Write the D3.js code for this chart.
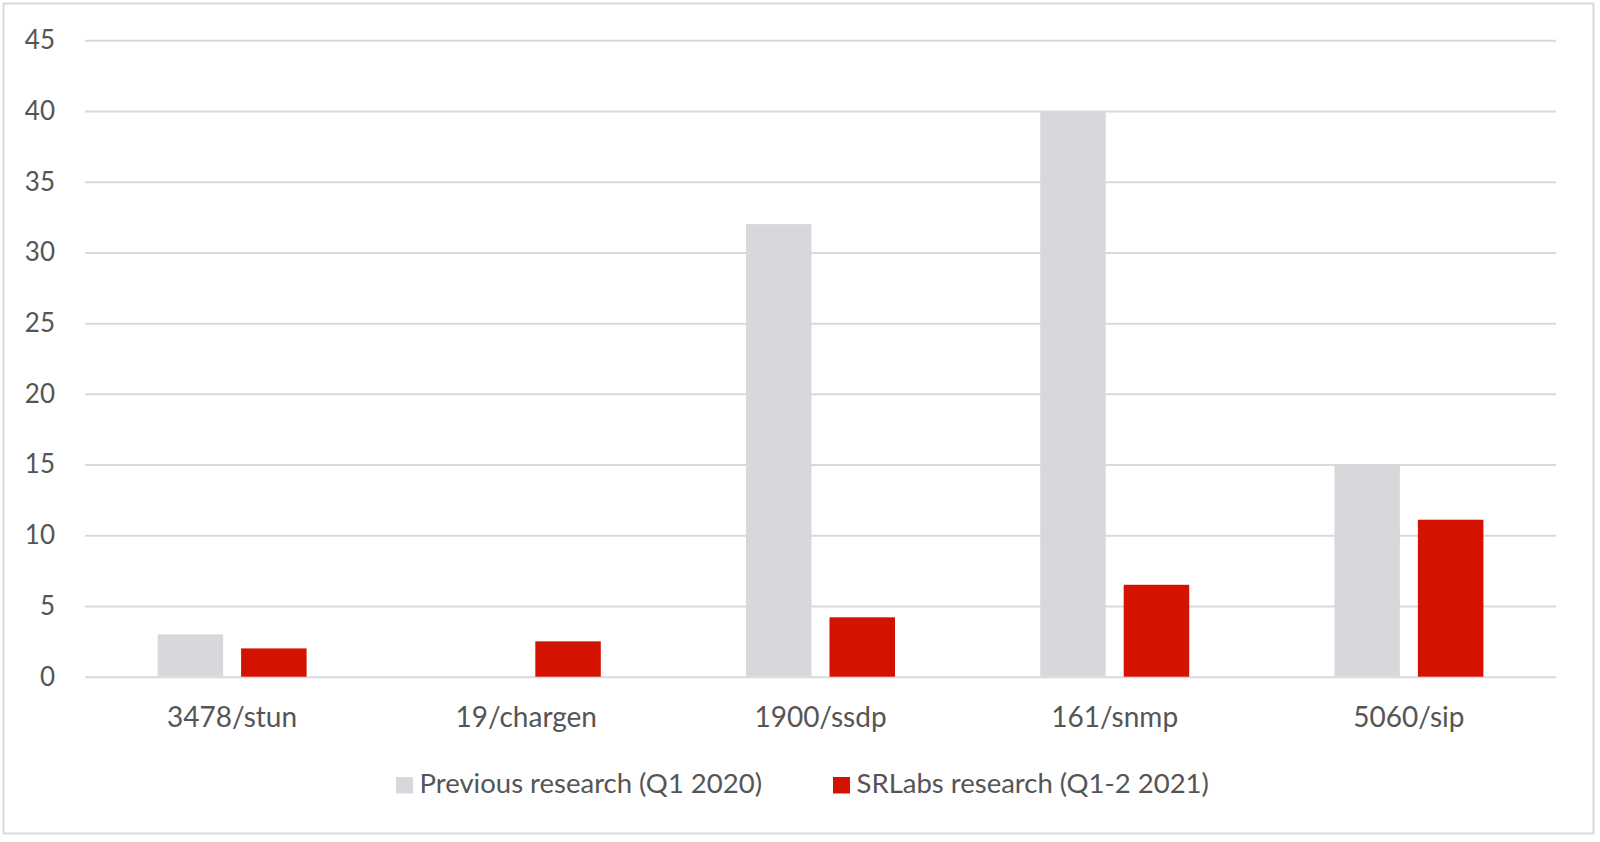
<!DOCTYPE html>
<html>
<head>
<meta charset="utf-8">
<script src="https://cdn.jsdelivr.net/npm/d3@7"></script>
<style>
  body { margin: 0; background: #fff; }
  svg text { font-family: Lato, "Open Sans", sans-serif; fill: #555; }
</style>
</head>
<body>
<div id="chart"></div>
<script>
// categories and series
const categories = ['3478/stun', '19/chargen', '1900/ssdp', '161/snmp', '5060/sip']
const seriesNames = ['Previous research (Q1 2020)', 'SRLabs research (Q1-2 2021)']
const previousValues = [3, 0, 32, 40, 15]
const srlabsValues = [2, 2.5, 4.2, 6.5, 11.1]
const yTicks = [0, 5, 10, 15, 20, 25, 30, 35, 40, 45]

const colors = ['#d9d7db', '#d31300']

const width = 1600, height = 842
const plot = { left: 85, right: 1556, top: 40.3, bottom: 676.7 }

const svg = d3.select('#chart').append('svg')
  .attr('width', width)
  .attr('height', height)

// chart border
svg.append('rect')
  .attr('x', 3.5).attr('y', 3.5)
  .attr('width', 1590).attr('height', 830)
  .attr('fill', '#fff')
  .attr('stroke', '#d9d9d9')
  .attr('stroke-width', 2)

const x0 = d3.scaleBand()
  .domain(categories)
  .range([plot.left, plot.right])

// bars take 65.5px each with an 18px gap, centred in the band
const groupWidth = 149
const x1 = d3.scaleBand()
  .domain(seriesNames)
  .range([(x0.bandwidth() - groupWidth) / 2, (x0.bandwidth() + groupWidth) / 2])
  .paddingInner(18 / 83.5)

const y = d3.scaleLinear()
  .domain([0, 45])
  .range([plot.bottom, plot.top])

// gridlines + tick labels
const yAxis = svg.append('g')
  .attr('transform', `translate(${plot.left},0)`)
  .call(d3.axisLeft(y)
    .tickValues(yTicks)
    .tickSize(-(plot.right - plot.left))
    .tickPadding(30))
yAxis.select('.domain').remove()
yAxis.selectAll('.tick line')
  .attr('stroke', '#d9d9d9')
  .attr('stroke-width', 2)
yAxis.selectAll('.tick text')
  .style('font-size', '26px')
  .style('fill', '#555')

const rows = categories.map((c, i) => ({
  cat: c,
  values: [previousValues[i], srlabsValues[i]]
}))

const groups = svg.append('g')
  .selectAll('g')
  .data(rows)
  .join('g')
  .attr('transform', d => `translate(${x0(d.cat)},0)`)

groups.selectAll('rect')
  .data(d => d.values.map((v, j) => ({ key: seriesNames[j], value: v, idx: j })))
  .join('rect')
  .filter(d => d.value > 0)
  .attr('x', d => x1(d.key))
  .attr('width', x1.bandwidth())
  .attr('y', d => y(d.value))
  .attr('height', d => y(0) - y(d.value))
  .attr('fill', d => colors[d.idx])

// category labels
const xAxis = svg.append('g')
  .attr('transform', `translate(0,${plot.bottom})`)
  .call(d3.axisBottom(x0).tickSize(0).tickPadding(0))
xAxis.select('.domain').remove()
xAxis.selectAll('.tick text')
  .attr('y', 50)
  .attr('dy', 0)
  .style('font-size', '28px')
  .style('fill', '#555')

// legend
const legendX = [396, 833]
const legend = svg.append('g')
  .selectAll('g')
  .data(seriesNames)
  .join('g')
  .attr('transform', (d, i) => `translate(${legendX[i]},777)`)

legend.append('rect')
  .attr('width', 17)
  .attr('height', 16.5)
  .attr('fill', (d, i) => colors[i])

legend.append('text')
  .attr('x', 23.5)
  .attr('y', 16.3)
  .style('font-size', '27.5px')
  .text(d => d)
</script>
</body>
</html>
